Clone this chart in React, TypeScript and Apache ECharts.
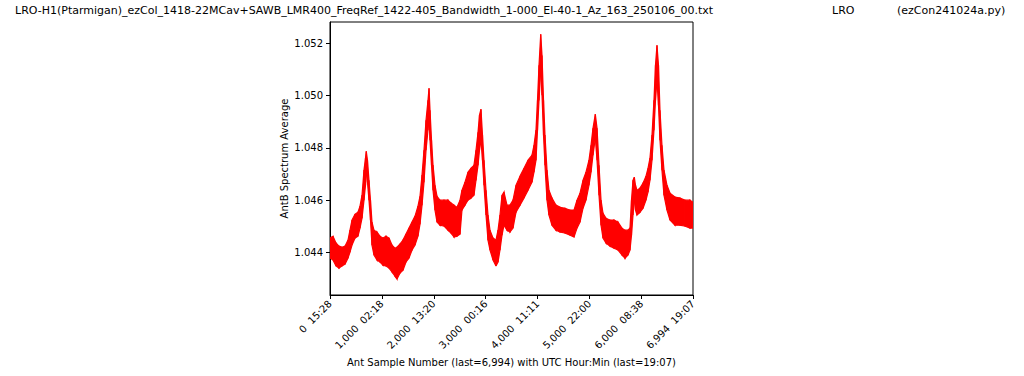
import React, { useEffect, useRef } from "react";
import * as echarts from "echarts";

const sampleIndex = [0,58,116,173,231,289,347,385,424,482,539,578,617,655,684,699,722,751,780,809,848,906,963,1021,1079,1137,1195,1252,1291,1349,1406,1464,1522,1580,1638,1695,1734,1773,1811,1850,1888,1908,1927,1956,1985,2023,2062,2119,2196,2274,2331,2389,2447,2505,2543,2601,2659,2717,2774,2813,2852,2880,2909,2938,2967,3006,3044,3083,3141,3198,3237,3275,3314,3352,3410,3468,3526,3584,3661,3738,3815,3892,3930,3969,3998,4027,4060,4085,4114,4142,4181,4219,4277,4354,4431,4528,4624,4701,4759,4817,4875,4932,4990,5029,5067,5112,5145,5183,5222,5260,5318,5395,5472,5549,5626,5684,5742,5780,5809,5838,5863,5886,5915,5973,6031,6088,6127,6165,6204,6242,6271,6300,6329,6358,6396,6435,6493,6551,6647,6743,6839,6936,6994];

const upperEnvelope = [1.04455,1.04462,1.04436,1.04424,1.04420,1.04424,1.04447,1.04485,1.04524,1.04546,1.04554,1.04577,1.04619,1.04715,1.04761,1.04787,1.04753,1.04676,1.04600,1.04516,1.04485,1.04478,1.04462,1.04455,1.04462,1.04455,1.04428,1.04416,1.04420,1.04432,1.04447,1.04470,1.04493,1.04516,1.04539,1.04577,1.04615,1.04696,1.04791,1.04906,1.04982,1.05028,1.04944,1.04829,1.04734,1.04657,1.04615,1.04600,1.04600,1.04600,1.04589,1.04581,1.04573,1.04600,1.04638,1.04669,1.04707,1.04722,1.04734,1.04791,1.04860,1.04925,1.04948,1.04849,1.04753,1.04638,1.04543,1.04485,1.04455,1.04447,1.04485,1.04543,1.04619,1.04631,1.04581,1.04581,1.04600,1.04657,1.04692,1.04722,1.04753,1.04772,1.04810,1.04868,1.04982,1.05116,1.05235,1.05154,1.04982,1.04849,1.04715,1.04638,1.04608,1.04581,1.04573,1.04569,1.04562,1.04562,1.04600,1.04627,1.04676,1.04707,1.04753,1.04810,1.04875,1.04929,1.04875,1.04734,1.04600,1.04550,1.04531,1.04524,1.04524,1.04516,1.04493,1.04485,1.04485,1.04493,1.04600,1.04676,1.04688,1.04657,1.04638,1.04646,1.04665,1.04692,1.04722,1.04761,1.04849,1.04982,1.05116,1.05193,1.05116,1.04944,1.04810,1.04715,1.04657,1.04627,1.04612,1.04608,1.04600,1.04600,1.04592];

const lowerEnvelope = [1.04378,1.04371,1.04348,1.04340,1.04348,1.04355,1.04378,1.04401,1.04428,1.04455,1.04462,1.04493,1.04531,1.04600,1.04657,1.04707,1.04669,1.04600,1.04524,1.04428,1.04390,1.04371,1.04363,1.04351,1.04348,1.04340,1.04325,1.04309,1.04298,1.04321,1.04332,1.04363,1.04378,1.04409,1.04428,1.04462,1.04508,1.04581,1.04669,1.04791,1.04868,1.04914,1.04829,1.04734,1.04638,1.04562,1.04516,1.04504,1.04501,1.04485,1.04474,1.04459,1.04462,1.04470,1.04562,1.04581,1.04600,1.04608,1.04619,1.04676,1.04734,1.04791,1.04829,1.04753,1.04657,1.04543,1.04447,1.04409,1.04371,1.04348,1.04363,1.04409,1.04466,1.04504,1.04485,1.04478,1.04493,1.04554,1.04581,1.04608,1.04638,1.04669,1.04707,1.04753,1.04868,1.04982,1.05097,1.05002,1.04849,1.04734,1.04600,1.04543,1.04504,1.04485,1.04478,1.04474,1.04466,1.04459,1.04493,1.04516,1.04569,1.04600,1.04657,1.04707,1.04772,1.04837,1.04753,1.04619,1.04504,1.04455,1.04436,1.04424,1.04416,1.04409,1.04390,1.04378,1.04390,1.04409,1.04466,1.04543,1.04600,1.04562,1.04543,1.04554,1.04569,1.04600,1.04631,1.04676,1.04753,1.04868,1.04982,1.05059,1.04963,1.04829,1.04715,1.04619,1.04562,1.04524,1.04504,1.04504,1.04501,1.04493,1.04493];

const yTickValues = [1.044, 1.046, 1.048, 1.05, 1.052];
const xTickValues = [0, 1000, 2000, 3000, 4000, 5000, 6000, 6994];
const xTickLabels = ["0  15:28", "1,000  02:18", "2,000  13:20", "3,000  00:16", "4,000  11:11", "5,000  22:00", "6,000  08:38", "6,994  19:07"];

const titleMain = "LRO-H1(Ptarmigan)_ezCol_1418-22MCav+SAWB_LMR400_FreqRef_1422-405_Bandwidth_1-000_El-40-1_Az_163_250106_00.txt";
const titleSite = "LRO";
const titleScript = "(ezCon241024a.py)";
const yAxisTitle = "AntB Spectrum Average";
const xAxisTitle = "Ant Sample Number (last=6,994) with UTC Hour:Min (last=19:07)";

const FONT = "DejaVu Sans";

export default function App() {
  const ref = useRef<HTMLDivElement>(null);
  useEffect(() => {
    const chart = echarts.init(ref.current!, null, { renderer: "svg" });
    const bandData = sampleIndex.map((s, i) => [s, upperEnvelope[i], lowerEnvelope[i]]);
    chart.setOption({
      animation: false,
      backgroundColor: "#ffffff",
      textStyle: { fontFamily: FONT },
      grid: {
        left: 330,
        right: 331,
        top: 22,
        bottom: 81,
        show: true,
        borderColor: "#000000",
        borderWidth: 1,
        backgroundColor: "transparent",
      },
      xAxis: {
        type: "value",
        min: 0,
        max: 6994,
        splitLine: { show: false },
        axisLine: { show: true, lineStyle: { color: "#000000", width: 1 } },
        axisTick: { show: true, length: 4, lineStyle: { color: "#000000" }, customValues: xTickValues },
        axisLabel: {
          customValues: xTickValues,
          rotate: 45,
          margin: 7,
          color: "#000000",
          fontFamily: FONT,
          fontSize: 10,
          formatter: (v: number) => {
            const i = xTickValues.indexOf(Math.round(v));
            return i >= 0 ? xTickLabels[i] : "";
          },
        },
      },
      yAxis: {
        type: "value",
        min: 1.04237,
        max: 1.05282,
        splitLine: { show: false },
        axisLine: { show: true, lineStyle: { color: "#000000", width: 1 } },
        axisTick: { show: true, length: 4, lineStyle: { color: "#000000" }, customValues: yTickValues },
        axisLabel: {
          customValues: yTickValues,
          margin: 7,
          color: "#000000",
          fontFamily: FONT,
          fontSize: 10,
          formatter: (v: number) => v.toFixed(3),
        },
      },
      series: [
        {
          type: "custom",
          coordinateSystem: "cartesian2d",
          data: bandData,
          encode: { x: 0, y: [1, 2] },
          clip: true,
          renderItem: (params: any, api: any) => {
            const i = params.dataIndex;
            if (i >= bandData.length - 1) return null;
            const a = bandData[i];
            const b = bandData[i + 1];
            const p1 = api.coord([a[0], a[1]]);
            const p2 = api.coord([b[0], b[1]]);
            const p3 = api.coord([b[0], b[2]]);
            const p4 = api.coord([a[0], a[2]]);
            return {
              type: "polygon",
              shape: { points: [p1, p2, p3, p4] },
              style: { fill: "#ff0000", stroke: "#ff0000", lineWidth: 1.2 },
            };
          },
        },
      ],
      graphic: [
        { type: "text", left: 15, top: 5, style: { text: titleMain, font: `11px '${FONT}'`, fill: "#000" } },
        { type: "text", left: 832, top: 5, style: { text: titleSite, font: `11px '${FONT}'`, fill: "#000" } },
        { type: "text", left: 897, top: 5, style: { text: titleScript, font: `11px '${FONT}'`, fill: "#000" } },
        {
          type: "text",
          x: 284,
          y: 158.5,
          rotation: Math.PI / 2,
          style: { text: yAxisTitle, font: `10px '${FONT}'`, fill: "#000", align: "center", verticalAlign: "middle" },
        },
        {
          type: "text",
          x: 511.5,
          y: 362,
          style: { text: xAxisTitle, font: `10px '${FONT}'`, fill: "#000", align: "center", verticalAlign: "middle" },
        },
      ],
    });
    return () => chart.dispose();
  }, []);
  return <div ref={ref} style={{ position: "fixed", left: 0, top: 0, width: 1024, height: 376 }} />;
}
